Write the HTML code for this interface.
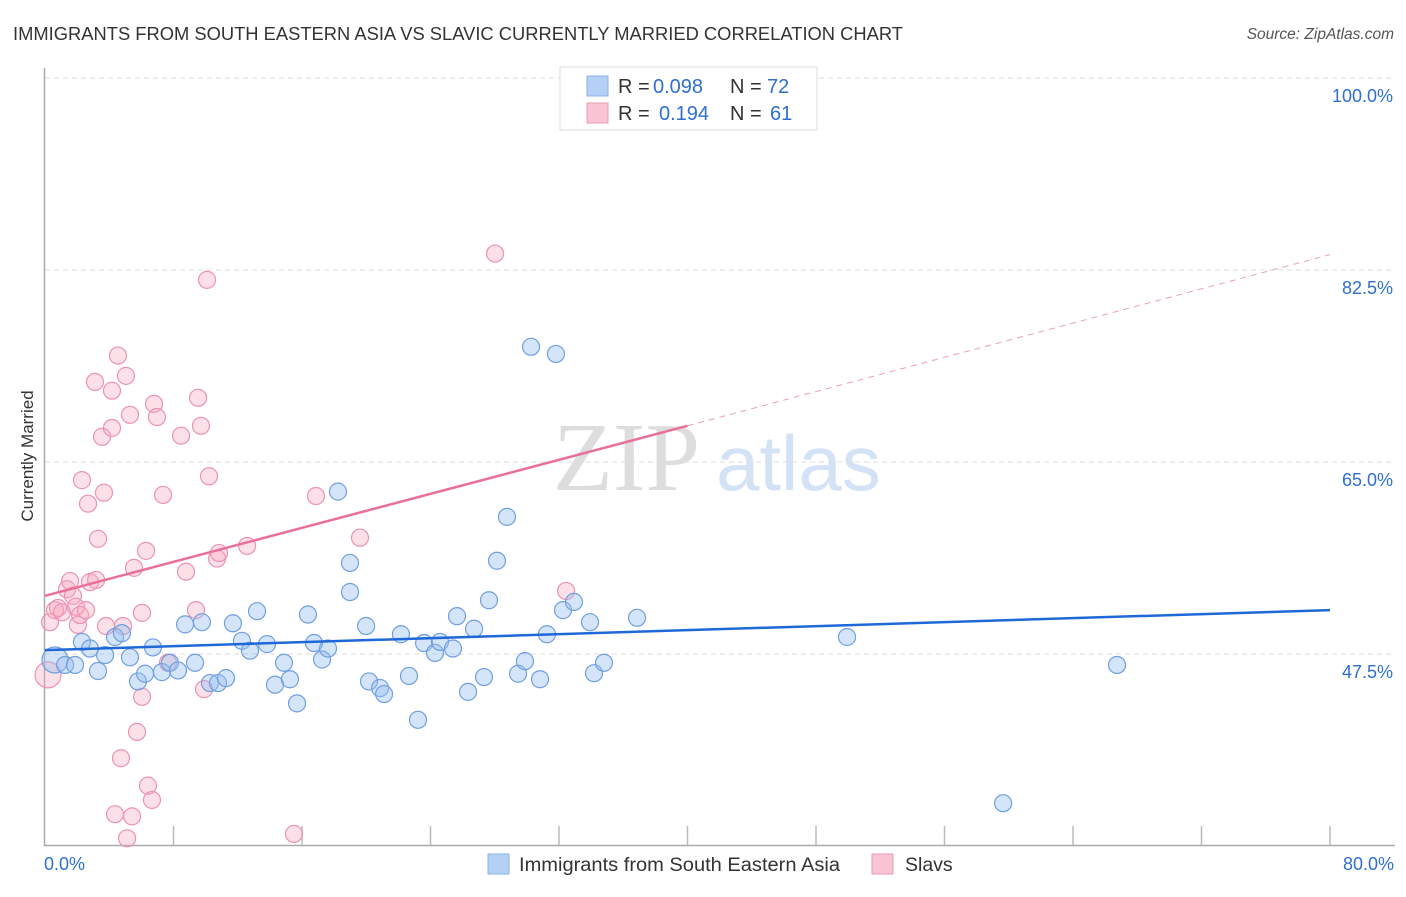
<!DOCTYPE html>
<html><head><meta charset="utf-8"><style>
body{margin:0;background:#fff;width:1406px;height:892px;overflow:hidden;font-family:"Liberation Sans",sans-serif}
</style></head><body>
<svg id="chart" width="1406" height="892" xmlns="http://www.w3.org/2000/svg" style="font-family:'Liberation Sans',sans-serif">
<text x="13" y="40" font-size="18.5" fill="#333" textLength="890" lengthAdjust="spacingAndGlyphs">IMMIGRANTS FROM SOUTH EASTERN ASIA VS SLAVIC CURRENTLY MARRIED CORRELATION CHART</text>
<text x="1394" y="39" font-size="15.5" fill="#555" text-anchor="end" font-style="italic">Source: ZipAtlas.com</text>
<text transform="translate(33,456) rotate(-90)" font-size="17" fill="#333" text-anchor="middle">Currently Married</text>
<g>
<text x="553" y="490" font-size="98" fill="#ddd" font-family="'Liberation Serif',serif">ZIP</text>
<text x="716" y="490" font-size="78" fill="#d3e2f5">atlas</text>
</g>
<g id="grid"></g><g id="axes"></g><g id="pts"></g><g id="trends"></g>
<g>
<rect x="560" y="67" width="257" height="63" fill="#fff" stroke="#ddd"/>
<rect x="587" y="76" width="21" height="20" fill="#b5d0f5" stroke="#8ab0e5"/>
<rect x="587" y="103" width="21" height="20" fill="#f9c5d5" stroke="#eb98b5"/>
<text x="618" y="93" font-size="20" fill="#333">R =</text>
<text x="653" y="93" font-size="20" fill="#2f6fd0">0.098</text>
<text x="730" y="93" font-size="20" fill="#333">N =</text>
<text x="767" y="93" font-size="20" fill="#2f6fd0">72</text>
<text x="618" y="120" font-size="20" fill="#333">R =</text>
<text x="659" y="120" font-size="20" fill="#2f6fd0">0.194</text>
<text x="730" y="120" font-size="20" fill="#333">N =</text>
<text x="770" y="120" font-size="20" fill="#2f6fd0">61</text>
</g>
<g>
<rect x="488" y="854" width="21" height="20" fill="#b5d0f5" stroke="#8ab0e5"/>
<text x="519" y="871" font-size="19" fill="#333" textLength="321" lengthAdjust="spacingAndGlyphs">Immigrants from South Eastern Asia</text>
<rect x="872" y="854" width="21" height="20" fill="#f9c5d5" stroke="#eb98b5"/>
<text x="905" y="871" font-size="19.5" fill="#333">Slavs</text>
</g>
</svg>
<script>
const yTicks=[100,82.5,65,47.5];
const yTickLabels=["100.0%","82.5%","65.0%","47.5%"];
const xTickLabels=["0.0%","80.0%"];
const blueX=[0.62,1.25,1.87,2.30,2.80,3.30,3.74,4.36,4.79,5.29,5.79,6.23,6.72,7.28,7.78,8.28,8.72,9.34,9.77,10.27,10.77,11.27,11.70,12.26,12.76,13.2,13.82,14.32,14.88,15.25,15.69,16.37,16.75,17.25,17.62,18.24,18.99,18.99,19.99,20.17,20.86,21.11,22.16,22.66,23.22,23.6,24.28,24.59,25.4,25.65,26.34,26.71,27.33,27.64,28.14,28.76,29.45,29.88,30.26,30.82,31.25,31.81,32.25,32.93,33.93,34.18,34.8,36.86,49.93,59.65,66.74];
const blueY=[46.95,46.5,46.5,48.6,48.0,45.95,47.4,49.05,49.4,47.2,45.0,45.7,48.1,45.85,46.7,46.0,50.2,46.7,50.4,44.85,44.85,45.3,50.3,48.7,47.8,51.4,48.4,44.7,46.7,45.2,43.0,51.1,48.5,47.0,48.0,62.3,55.8,53.15,50.05,45.0,44.4,43.85,49.3,45.5,41.5,48.5,47.6,48.6,48.0,50.95,44.05,49.8,45.4,52.4,56.0,60.0,45.7,46.85,75.5,45.2,49.3,74.85,51.5,52.25,50.4,45.75,46.7,50.8,49.05,33.9,46.5];
const pinkX=[0.19,0.31,0.62,0.81,1.06,1.37,1.56,1.74,1.93,2.05,2.18,2.30,2.55,2.68,2.80,3.11,3.18,3.30,3.55,3.67,3.80,4.17,4.17,4.36,4.54,4.73,4.86,5.04,5.11,5.29,5.42,5.54,5.73,6.04,6.04,6.29,6.41,6.66,6.79,6.97,7.35,7.66,8.47,8.78,9.40,9.53,9.71,9.90,10.09,10.21,10.71,10.83,12.58,15.50,16.87,19.61,28.02,32.44];
const pinkY=[45.6,50.4,51.5,51.7,51.3,53.4,54.15,52.8,51.8,50.15,51.05,63.35,51.5,61.2,54.05,72.3,54.25,58.0,67.3,62.2,50.05,71.5,68.1,32.9,74.7,38.0,50.05,72.85,30.7,69.3,32.7,55.35,40.4,43.6,51.25,56.9,35.5,34.2,70.3,69.1,62.0,46.7,67.4,55.0,51.5,70.85,68.3,44.3,81.6,63.7,56.2,56.7,57.35,31.1,61.9,58.1,84.0,53.25];
const blueTrend=[[0,47.85],[80,51.5]];
const pinkTrend=[[0,52.8],[40,68.3],[80,83.9]];
const X=v=>45+v/80*1285, Y=v=>654-(v-47.5)*192/17.5;
const NS="http://www.w3.org/2000/svg";
function mk(tag,attrs,parent){const e=document.createElementNS(NS,tag);for(const k in attrs)e.setAttribute(k,attrs[k]);document.getElementById(parent).appendChild(e);return e;}
yTicks.forEach((t,i)=>{
 const l=mk('line',{x1:45,x2:1393,y1:Y(t),y2:Y(t),stroke:'#ddd','stroke-dasharray':'5,4'},'grid');
 
 
 const tx=mk('text',{x:1393,y:Y(t)+24,'font-size':18,fill:'#2f6fd0','text-anchor':'end'},'grid');
 tx.textContent=yTickLabels[i];
 
 
});
const ax=mk('path',{d:'M44.5 68V845.5H1395',stroke:'#aaa',fill:'none','stroke-width':1.5},'axes');


for(let i=1;i<=10;i++){const t=mk('line',{x1:X(i*8),x2:X(i*8),y1:826,y2:845,stroke:'#bbb','stroke-width':1.5},'axes');
 
 }
[[0,'start',44],[80,'end',1394]].forEach((d,i)=>{const t=mk('text',{x:d[2],y:870,'font-size':18,fill:'#2f6fd0','text-anchor':d[1]},'axes');t.textContent=xTickLabels[i];
 
 });
function pts(xs,ys,fill,stroke,name){xs.forEach((x,i)=>{const c=mk('circle',{cx:X(x),cy:Y(ys[i]),r:i==0?13:8.5,fill:fill,stroke:stroke,'stroke-width':1.2},'pts');
 
 });}
pts(pinkX,pinkY,'rgba(245,165,190,0.35)','#ec92b2','slavs-point');
pts(blueX,blueY,'rgba(150,190,240,0.4)','#6f9fe0','sea-point');
const bt=mk('line',{x1:X(blueTrend[0][0]),y1:Y(blueTrend[0][1]),x2:X(blueTrend[1][0]),y2:Y(blueTrend[1][1]),stroke:'#1f68d8','stroke-width':2.5},'trends');


const pt=mk('line',{x1:X(pinkTrend[0][0]),y1:Y(pinkTrend[0][1]),x2:X(pinkTrend[1][0]),y2:Y(pinkTrend[1][1]),stroke:'#e8709a','stroke-width':2.5},'trends');


const pd=mk('line',{x1:X(pinkTrend[1][0]),y1:Y(pinkTrend[1][1]),x2:X(pinkTrend[2][0]),y2:Y(pinkTrend[2][1]),stroke:'#e8a0b8','stroke-width':1,'stroke-dasharray':'6,5'},'trends');


</script>
</body></html>
